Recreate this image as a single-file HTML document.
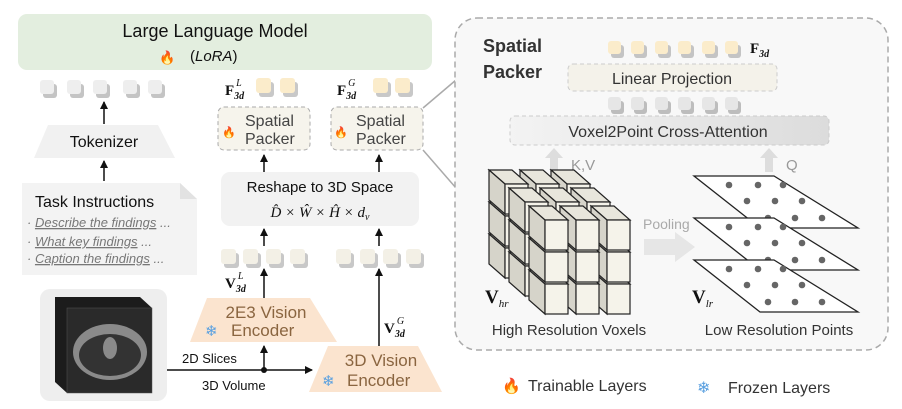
<!DOCTYPE html>
<html><head><meta charset="utf-8"><style>
html,body{margin:0;padding:0;background:#fff;}
svg{display:block;font-family:"Liberation Sans",sans-serif;}
</style></head><body>
<svg id="s" width="902" height="409" viewBox="0 0 902 409" xmlns="http://www.w3.org/2000/svg">
<defs>
<marker id="ah" markerWidth="8" markerHeight="8" refX="7" refY="4" orient="auto" markerUnits="userSpaceOnUse"><path d="M0,0 L8,4 L0,8 z" fill="#111"/></marker>
<linearGradient id="pg" x1="0" x2="1"><stop offset="0" stop-color="#f3f3f3"/><stop offset="1" stop-color="#dcdcdc"/></linearGradient>
</defs>
<!-- LLM -->
<rect x="18" y="14" width="414" height="56" rx="9" fill="#e3eedf"/>
<text x="215" y="37" font-size="18" text-anchor="middle" fill="#111">Large Language Model</text>
<text x="159" y="62" font-size="13">🔥</text>
<text x="190" y="61" font-size="15" fill="#111">(<tspan font-style="italic">LoRA</tspan>)</text>
<g id="gtok"></g>
<!-- tokenizer -->
<line x1="104" y1="124" x2="104" y2="102" stroke="#111" stroke-width="1.5" marker-end="url(#ah)"/>
<polygon points="48,125 158,125 175,158 34,158" fill="#f1f1f1"/>
<text x="104" y="147" font-size="16" text-anchor="middle" fill="#111">Tokenizer</text>
<line x1="104" y1="181" x2="104" y2="161" stroke="#111" stroke-width="1.5" marker-end="url(#ah)"/>
<!-- task instr -->
<polygon points="22,183 180,183 197,199 197,275 22,275" fill="#f3f3f3"/>
<polygon points="180,183 197,199 180,199" fill="#e2e2e2"/>
<text x="35" y="207" font-size="16" fill="#111">Task Instructions</text>
<g font-size="13" fill="#777" font-style="italic">
<text x="27" y="227">· <tspan text-decoration="underline">Describe the findings</tspan> ...</text>
<text x="27" y="246">· <tspan text-decoration="underline">What key findings</tspan> ...</text>
<text x="27" y="263">· <tspan text-decoration="underline">Caption the findings</tspan> ...</text>
</g>
<!-- F3d labels -->
<g font-family="Liberation Serif,serif" font-weight="bold" fill="#111">
<text x="225" y="95" font-size="15">F<tspan font-size="10" dy="4" font-style="italic">3d</tspan><tspan font-size="10" dy="-13" dx="-8" font-style="italic" font-weight="normal">L</tspan></text>
<text x="337" y="95" font-size="15">F<tspan font-size="10" dy="4" font-style="italic">3d</tspan><tspan font-size="10" dy="-13" dx="-8" font-style="italic" font-weight="normal">G</tspan></text>
<text x="225" y="288" font-size="15">V<tspan font-size="10" dy="4" font-style="italic">3d</tspan><tspan font-size="10" dy="-13" dx="-8" font-style="italic" font-weight="normal">L</tspan></text>
<text x="384" y="333" font-size="15">V<tspan font-size="10" dy="4" font-style="italic">3d</tspan><tspan font-size="10" dy="-13" dx="-8" font-style="italic" font-weight="normal">G</tspan></text>
</g>
<!-- spatial packers small -->
<rect x="218" y="107" width="92" height="43" rx="6" fill="#f6f4ec" stroke="#aaa" stroke-dasharray="4,3"/>
<rect x="331" y="107" width="92" height="43" rx="6" fill="#f6f4ec" stroke="#aaa" stroke-dasharray="4,3"/>
<g font-size="16" fill="#444">
<text x="245" y="126">Spatial</text><text x="245" y="144">Packer</text>
<text x="356" y="126">Spatial</text><text x="356" y="144">Packer</text>
</g>
<text x="222" y="136" font-size="11">🔥</text><text x="334" y="136" font-size="11">🔥</text>
<line x1="423" y1="108" x2="456" y2="80" stroke="#aaa" stroke-width="1.5"/>
<line x1="423" y1="150" x2="456" y2="188" stroke="#aaa" stroke-width="1.5"/>
<line x1="264" y1="172" x2="264" y2="155" stroke="#111" stroke-width="1.5" marker-end="url(#ah)"/>
<line x1="379" y1="172" x2="379" y2="155" stroke="#111" stroke-width="1.5" marker-end="url(#ah)"/>
<!-- reshape -->
<rect x="221" y="172" width="198" height="54" rx="9" fill="#f2f2f2"/>
<text x="320" y="192" font-size="15" text-anchor="middle" fill="#111">Reshape to 3D Space</text>
<text x="320" y="217" font-size="15" text-anchor="middle" font-family="Liberation Serif,serif" font-style="italic" fill="#111">D̂ × Ŵ × Ĥ × d<tspan font-size="10" dy="3">v</tspan></text>
<line x1="264" y1="246" x2="264" y2="229" stroke="#111" stroke-width="1.5" marker-end="url(#ah)"/>
<line x1="379" y1="246" x2="379" y2="229" stroke="#111" stroke-width="1.5" marker-end="url(#ah)"/>
<line x1="264" y1="298" x2="264" y2="269" stroke="#111" stroke-width="1.5" marker-end="url(#ah)"/>
<line x1="379" y1="346" x2="379" y2="269" stroke="#111" stroke-width="1.5" marker-end="url(#ah)"/>
<!-- encoders -->
<polygon points="207,298 310,298 337,342 190,342" fill="#fbe4cf"/>
<text x="266" y="318" font-size="17" text-anchor="middle" fill="#8a6540">2E3 Vision</text>
<text x="231" y="336" font-size="17" fill="#8a6540">Encoder</text>
<text x="205" y="336" font-size="15" fill="#5aa0e0">❄</text>
<polygon points="328,346 418,346 442,392 309,392" fill="#fbe4cf"/>
<text x="381" y="366" font-size="17" text-anchor="middle" fill="#8a6540">3D Vision</text>
<text x="347" y="386" font-size="17" fill="#8a6540">Encoder</text>
<text x="322" y="386" font-size="15" fill="#5aa0e0">❄</text>
<!-- CT -->
<rect x="40" y="289" width="127" height="112" rx="10" fill="#eeeeee"/>
<polygon points="55,297 140,297 152,308 152,393 67,393 55,382" fill="#1c1c1c"/>
<rect x="67" y="308" width="85" height="85" fill="#2a2a2a" stroke="#555" stroke-width="0.5"/>
<ellipse cx="110" cy="352" rx="37" ry="28" fill="#8a8a8a"/>
<ellipse cx="110" cy="355" rx="31" ry="21" fill="#333"/>
<ellipse cx="110" cy="348" rx="7" ry="11" fill="#8a8a8a"/>
<!-- slices/volume -->
<line x1="167" y1="370" x2="312" y2="370" stroke="#111" stroke-width="1.5" marker-end="url(#ah)"/>
<circle cx="264" cy="370" r="3" fill="#111"/>
<line x1="264" y1="370" x2="264" y2="346" stroke="#111" stroke-width="1.5" marker-end="url(#ah)"/>
<text x="182" y="363" font-size="13" fill="#111">2D Slices</text>
<text x="202" y="390" font-size="13" fill="#111">3D Volume</text>
<!-- big panel -->
<rect x="455" y="18" width="433" height="332" rx="22" fill="#f8f8f8" stroke="#aaa" stroke-width="1.5" stroke-dasharray="6,4"/>
<g id="ptok"></g>
<text x="483" y="52" font-size="18" font-weight="bold" fill="#333">Spatial</text>
<text x="483" y="78" font-size="18" font-weight="bold" fill="#333">Packer</text>
<text x="750" y="53" font-size="15" font-weight="bold" font-family="Liberation Serif,serif" fill="#111">F<tspan font-size="10" dy="4" font-style="italic">3d</tspan></text>
<rect x="568" y="64" width="209" height="27" rx="5" fill="#f4f2ea" stroke="#ccc" stroke-dasharray="4,3"/>
<text x="672" y="84" font-size="16" text-anchor="middle" fill="#333">Linear Projection</text>
<rect x="510" y="116" width="319" height="29" rx="5" fill="url(#pg)" stroke="#ccc" stroke-dasharray="4,3"/>
<text x="668" y="137" font-size="16" text-anchor="middle" fill="#333">Voxel2Point Cross-Attention</text>
<polygon points="550,172 558,172 558,158 563,158 554,148 545,158 550,158" fill="#ddd"/>
<text x="571" y="170" font-size="15" fill="#999">K,V</text>
<polygon points="765,172 773,172 773,158 778,158 769,148 760,158 765,158" fill="#ddd"/>
<text x="786" y="170" font-size="15" fill="#999">Q</text>
<g id="cubes"></g>
<polygon points="644,239 675,239 675,232 695,247 675,262 675,255 644,255" fill="#e6e6e6"/>
<text x="643" y="229" font-size="14" fill="#aaa">Pooling</text>
<g id="planes"></g>
<text x="485" y="303" font-size="19" font-weight="bold" font-family="Liberation Serif,serif" fill="#111">V<tspan font-size="11" dy="4" font-style="italic" font-weight="normal">hr</tspan></text>
<text x="692" y="303" font-size="19" font-weight="bold" font-family="Liberation Serif,serif" fill="#111">V<tspan font-size="11" dy="4" font-style="italic" font-weight="normal">lr</tspan></text>
<text x="569" y="335" font-size="15" text-anchor="middle" fill="#333">High Resolution Voxels</text>
<text x="779" y="335" font-size="15" text-anchor="middle" fill="#333">Low Resolution Points</text>
<!-- legend -->
<text x="502" y="391" font-size="15">🔥</text>
<text x="528" y="391" font-size="16" fill="#333">Trainable Layers</text>
<text x="697" y="393" font-size="16" fill="#5aa0e0">❄</text>
<text x="728" y="393" font-size="16" fill="#333">Frozen Layers</text>
</svg>
<script>
const NS="http://www.w3.org/2000/svg";
function el(p,t,a){const e=document.createElementNS(NS,t);for(const k in a)e.setAttribute(k,a[k]);p.appendChild(e);return e;}
function tok(g,x,y,w,c,sh){el(g,'rect',{x:x+3,y:y+4,width:w,height:w,rx:3,fill:sh});el(g,'rect',{x:x,y:y,width:w,height:w,rx:3,fill:c});}
const g=document.getElementById('gtok'),pt=document.getElementById('ptok');
[40,67,93,123,148].forEach(x=>tok(g,x,80,14,'#eeeeee','#c4c4c4'));
[256,280,373,395].forEach(x=>tok(g,x,78,15,'#fbeccb','#c8c8c8'));
[221,243,266,290,336,360,383,406].forEach(x=>tok(g,x,249,15,'#f3f0e6','#c8c8c8'));
[608,631,655,678,702,725].forEach(x=>{tok(pt,x,41,13,'#fbeccb','#c4c4c4');tok(pt,x,97,13,'#e6e6e6','#bdbdbd');});
const cg=document.getElementById('cubes');const w=23,h=30,dx=-16,dy=-14;
for(let z=0;z<3;z++){const ox=-(2-z)*20,oy=-(2-z)*18;
 for(let r=2;r>=0;r--)for(let c=2;c>=0;c--){const x=545+c*31+ox,y=220+r*32+oy;
  el(cg,'polygon',{points:`${x},${y} ${x+w},${y} ${x+w+dx},${y+dy} ${x+dx},${y+dy}`,fill:'#e8e6dc',stroke:'#222','stroke-width':1.2});
  el(cg,'polygon',{points:`${x},${y} ${x},${y+h} ${x+dx},${y+h+dy} ${x+dx},${y+dy}`,fill:'#d6d4ca',stroke:'#222','stroke-width':1.2});
  el(cg,'rect',{x:x,y:y,width:w,height:h,fill:'#f5f3ea',stroke:'#222','stroke-width':1.2});
 }}
const pg=document.getElementById('planes');
[176,218,260].forEach(y0=>{
 el(pg,'polygon',{points:`694,${y0} 774,${y0} 858,${y0+52} 760,${y0+52}`,fill:'#fff',stroke:'#222','stroke-width':1.3});
 [[731,185],[760,185],[785,185],[749,201],[777,201],[804,201],[770,218],[797,218],[824,218]].forEach(([x,y])=>el(pg,'circle',{cx:x-2,cy:y0+(y-176),r:3.3,fill:'#666'}));
});
</script>
</body></html>
